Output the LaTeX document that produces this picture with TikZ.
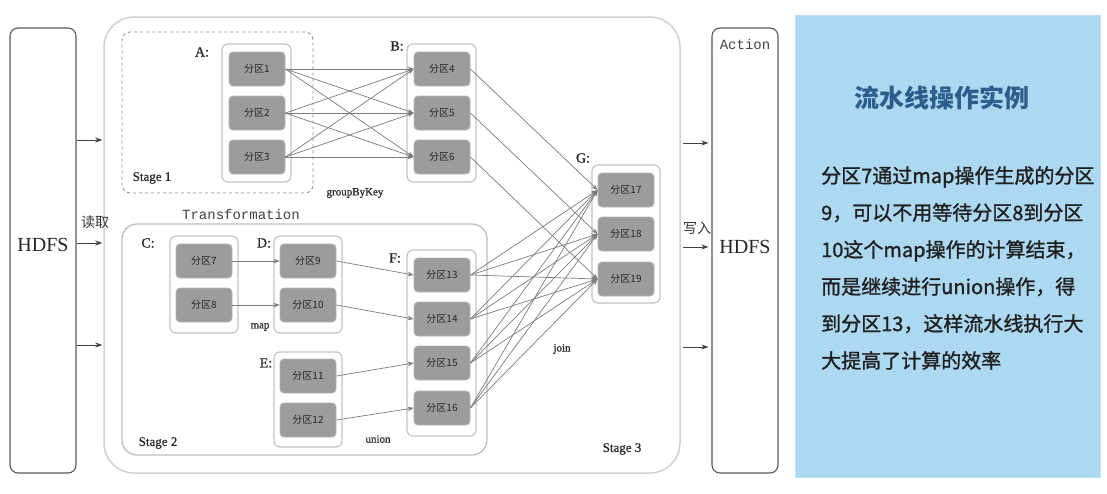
\documentclass[tikz,border=0pt]{standalone}
\usepackage{fontspec}
\setmainfont{Liberation Serif}
\setmonofont{Liberation Mono}
\newfontfamily\cjk{Noto Sans CJK SC}
\newfontfamily\cjkbody[FakeBold=1.2]{Noto Sans CJK SC}
\newfontfamily\serifmid[FakeBold=0.8]{Liberation Serif}
\usetikzlibrary{arrows.meta}
\definecolor{partfill}{HTML}{9C9C9C}
\definecolor{partline}{HTML}{B4B4B4}
\definecolor{edgec}{HTML}{7C7C7C}
\definecolor{contline}{HTML}{C4C4C4}
\definecolor{panelc}{HTML}{ACD9F1}
\definecolor{titlec}{HTML}{2C5D8C}
\begin{document}
\begin{tikzpicture}[x=1pt,y=-1pt,
  part/.style={rounded corners=4pt, fill=partfill, draw=partline, line width=0.8pt,
    minimum width=56pt, minimum height=34pt, inner sep=0pt,
    font=\cjk\fontsize{10}{12}\selectfont, text=black!85},
  cont/.style={rounded corners=6pt, draw=contline, line width=1.2pt, fill=white,
    inner sep=0pt},
  edge/.style={draw=edgec, line width=0.7pt, -{Stealth[length=6pt,width=4.5pt]}},
  harrow/.style={draw=black!75, line width=0.9pt, -{Stealth[length=7pt,width=5pt]}},
  hdfsbox/.style={draw=black!65, line width=1.1pt, rounded corners=8pt, fill=white,
    minimum width=66pt, minimum height=445pt, inner sep=0pt},
  lbl/.style={font=\serifmid\fontsize{14}{16}\selectfont, text=black!85, inner sep=0pt},
  stagelbl/.style={font=\serifmid\fontsize{13}{15}\selectfont, text=black!85, inner sep=0pt},
  oplbl/.style={font=\serifmid\fontsize{11}{13}\selectfont, text=black!85, inner sep=0pt},
  monolbl/.style={font=\ttfamily\fontsize{14}{16}\selectfont, text=black!75, inner sep=0pt},
  cjklbl/.style={font=\cjk\fontsize{14}{16}\selectfont, text=black!80, inner sep=0pt},
  hdfslbl/.style={font=\fontsize{20}{22}\selectfont, text=black!85, inner sep=0pt}
]
\useasboundingbox (0,0) rectangle (1107,493);
\fill[white] (0,0) rectangle (1107,493);

% outer frame (stage 3)
\node[draw=black!18, line width=1.5pt, rounded corners=30pt, minimum width=576pt,
  minimum height=456pt, inner sep=0pt] (outer) at (392,245) {};
% stage 1 dashed
\node[draw=black!45, dashed, line width=0.9pt, rounded corners=8pt, minimum width=191pt,
  minimum height=161pt, inner sep=0pt] (stage1) at (217.5,112.5) {};
% stage 2
\node[draw=black!25, line width=1.3pt, rounded corners=15pt, minimum width=365pt,
  minimum height=231pt, inner sep=0pt] (stage2) at (304.5,339.5) {};

% HDFS boxes
\node[hdfsbox] (hl) at (43,250.5) {};
\node[hdfsbox] (hr) at (745,250.5) {};
\node[hdfslbl] (hltxt) at (43,245) {HDFS};
\node[hdfslbl] (hrtxt) at (745,247) {HDFS};
\node[monolbl] (action) at (745,44) {Action};

% containers
\node[cont, minimum width=69pt, minimum height=138pt] (cA) at (256.5,113) {};
\node[cont, minimum width=69pt, minimum height=138pt] (cB) at (441.5,113) {};
\node[cont, minimum width=68pt, minimum height=97pt] (cC) at (204,284.5) {};
\node[cont, minimum width=68pt, minimum height=97pt] (cD) at (308,284.5) {};
\node[cont, minimum width=68pt, minimum height=95pt] (cE) at (308,399.5) {};
\node[cont, minimum width=69pt, minimum height=186pt] (cF) at (441.5,343) {};
\node[cont, minimum width=68pt, minimum height=138pt] (cG) at (626,234) {};

% partitions
\node[part] (p1) at (257,69) {分区1};
\node[part] (p2) at (257,113) {分区2};
\node[part] (p3) at (257,157) {分区3};
\node[part] (p4) at (442,69) {分区4};
\node[part] (p5) at (442,113) {分区5};
\node[part] (p6) at (442,157) {分区6};
\node[part] (p7) at (204,261) {分区7};
\node[part] (p8) at (204,305) {分区8};
\node[part] (p9) at (308,261) {分区9};
\node[part] (p10) at (308,305) {分区10};
\node[part] (p11) at (308,376) {分区11};
\node[part] (p12) at (308,420) {分区12};
\node[part] (p13) at (442,275) {分区13};
\node[part] (p14) at (442,319) {分区14};
\node[part] (p15) at (442,363) {分区15};
\node[part] (p16) at (442,408) {分区16};
\node[part] (p17) at (626,190) {分区17};
\node[part] (p18) at (626,234) {分区18};
\node[part] (p19) at (626,279) {分区19};

% labels
\node[lbl] (lA) at (202,52) {A:};
\node[lbl] (lB) at (397,46) {B:};
\node[lbl] (lC) at (148,243) {C:};
\node[lbl] (lD) at (264,243) {D:};
\node[lbl] (lE) at (266,363) {E:};
\node[lbl] (lF) at (395,258) {F:};
\node[lbl] (lG) at (583,158) {G:};
\node[stagelbl] (s1) at (152,178) {Stage 1};
\node[stagelbl] (s2) at (158,443) {Stage 2};
\node[stagelbl] (s3) at (622,449) {Stage 3};
\node[oplbl] (gbk) at (355,193) {groupByKey};
\node[oplbl] (mapl) at (260,327) {map};
\node[oplbl] (unionl) at (378,439) {union};
\node[oplbl] (joinl) at (562,349) {join};
\node[monolbl] (transf) at (241,214) {Transformation};
\node[cjklbl] (read) at (95,222) {读取};
\node[cjklbl] (write) at (697,228) {写入};

% edges
\foreach \s in {1,2,3}{\foreach \t in {4,5,6}{\draw[edge] (p\s.east) -- (p\t.west);}}
\draw[edge] (p4.east) -- (p17.west);
\draw[edge] (p5.east) -- (p18.west);
\draw[edge] (p6.east) -- (p19.west);
\draw[edge] (p7.east) -- (p9.west);
\draw[edge] (p8.east) -- (p10.west);
\draw[edge] (p9.east) -- (p13.west);
\draw[edge] (p10.east) -- (p14.west);
\draw[edge] (p11.east) -- (p15.west);
\draw[edge] (p12.east) -- (p16.west);
\foreach \s in {13,14,15,16}{\foreach \t in {17,18,19}{\draw[edge] (p\s.east) -- (p\t.west);}}

% HDFS arrows
\foreach \yy in {140,243,345}{\draw[harrow] (hl.east |- 0,\yy) -- ([xshift=-1pt]outer.west |- 0,\yy);}
\foreach \yy in {143,247,347}{\draw[harrow] ([xshift=2pt]outer.east |- 0,\yy) -- ([xshift=-3pt]hr.west |- 0,\yy);}

% right panel
\node[fill=panelc, draw=panelc!80!white, line width=1pt, minimum width=305pt,
  minimum height=462pt, inner sep=0pt] (panel) at (947.5,246) {};
\node[font=\cjk\bfseries\fontsize{25}{28}\selectfont, text=titlec, inner sep=0pt]
  (title) at (942,98) {流水线操作实例};
\node[font=\cjkbody\fontsize{20}{37}\selectfont, text=black!88, align=left, inner sep=0pt,
  anchor=north west] (body) at (821,166) {分区7通过map操作生成的分区\\
9，可以不用等待分区8到分区\\
10这个map操作的计算结束，\\
而是继续进行union操作，得\\
到分区13，这样流水线执行大\\
大提高了计算的效率};
\end{tikzpicture}
\end{document}
